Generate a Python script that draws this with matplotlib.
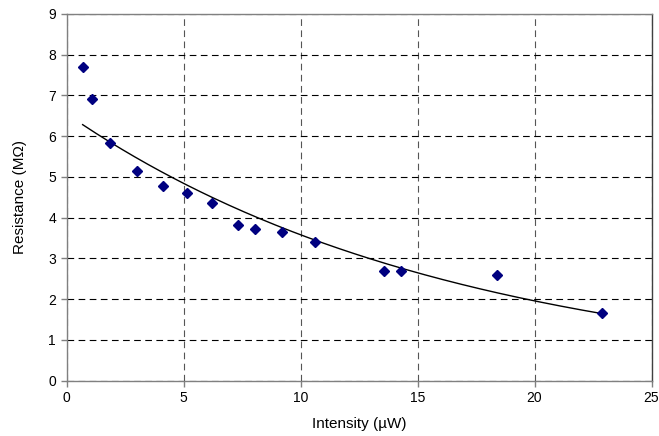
import numpy as np
import matplotlib
matplotlib.use("Agg")
import matplotlib.pyplot as plt

plt.rcParams['font.family'] = ['Liberation Sans', 'DejaVu Sans']

# data
intensity = [0.69, 1.08, 1.85, 3.03, 4.14, 5.16, 6.23, 7.33, 8.04, 9.22, 10.6, 13.56, 14.3, 18.4, 22.9]
resistance = [7.70, 6.92, 5.83, 5.15, 4.77, 4.60, 4.35, 3.81, 3.71, 3.65, 3.40, 2.68, 2.70, 2.60, 1.66]

x = np.array(intensity)
y = np.array(resistance)

# exponential trendline (excel style)
b, lna = np.polyfit(x, np.log(y), 1)
xt = np.linspace(x.min(), x.max(), 200)
yt = np.exp(lna) * np.exp(b * xt)

fig = plt.figure(figsize=(6.59, 4.36), dpi=100)
ax = fig.add_axes([66.5 / 659, 1 - 380.5 / 436, 585 / 659, 366.5 / 436])

ax.plot(xt, yt, color='black', linewidth=1.0, zorder=2)
ax.plot(x, y, linestyle='none', marker='D', markersize=5.5, color='#000080', zorder=3)

ax.set_xlim(0, 25)
ax.set_ylim(0, 9)
ax.set_xticks(range(0, 26, 5))
ax.set_yticks(range(0, 10))

ax.grid(True, axis='y', color='black', linestyle=(0, (6, 4)), linewidth=0.8)
ax.grid(True, axis='x', color='#555555', linestyle=(0, (6, 4)), linewidth=0.8)
ax.set_axisbelow(True)

for s in ['left', 'bottom', 'top', 'right']:
    ax.spines[s].set_color('#808080')
    ax.spines[s].set_linewidth(1.0)
ax.spines['right'].set_color('#404040')

ax.tick_params(axis='both', direction='out', length=4, color='#808080', labelsize=10, width=1)

ax.set_xlabel('Intensity (\u00b5W)', fontsize=11, labelpad=9)
ax.set_ylabel('Resistance (M\u03a9)', fontsize=11, labelpad=15)

fig.savefig('out.png', dpi=100)
